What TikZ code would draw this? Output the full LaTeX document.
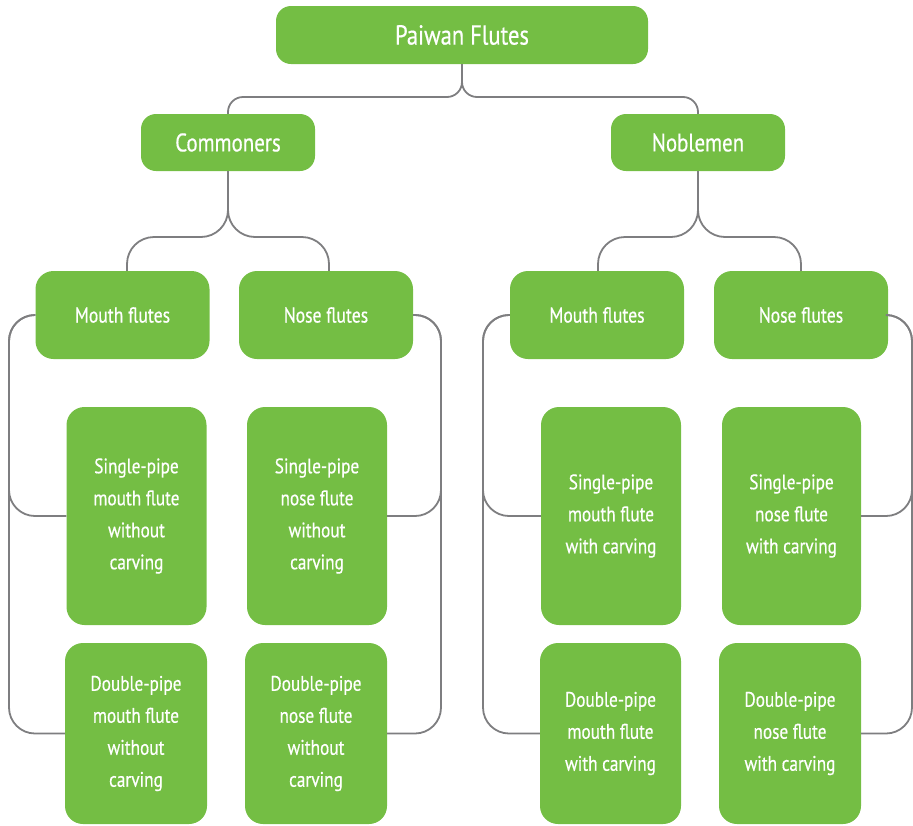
\documentclass[tikz,border=0pt]{standalone}
\usepackage{fontspec}
\setmainfont[FakeStretch=0.82, FakeBold=0.5]{PT Sans}
\usetikzlibrary{calc}
\definecolor{leafgreen}{HTML}{74BE44}
\definecolor{linegray}{HTML}{7E7E80}
\tikzset{
  box/.style={fill=leafgreen, draw=none, text=white, align=center, inner sep=0pt},
  toplevel/.style={box, rounded corners=15pt, minimum width=372pt, minimum height=58pt, font=\fontsize{27.5}{30}\selectfont},
  group/.style={box, rounded corners=15pt, minimum width=174pt, minimum height=57pt, font=\fontsize{25.5}{28}\selectfont},
  kind/.style={box, rounded corners=18pt, minimum width=174pt, minimum height=88pt, font=\fontsize{21.5}{26}\selectfont},
  single/.style={box, rounded corners=18pt, minimum width=140pt, minimum height=218pt, font=\fontsize{21}{32}\selectfont},
  double/.style={box, rounded corners=18pt, minimum width=142pt, minimum height=181pt, font=\fontsize{21}{32}\selectfont},
  conn/.style={draw=linegray, line width=1.8pt}
}
\begin{document}
\begin{tikzpicture}[x=1pt, y=-1pt]
\useasboundingbox (0,0) rectangle (913,825);

% tree levels
\node[toplevel] (root) at (462,35) {Paiwan Flutes};
\node[group] (com) at (228,142.5) {Commoners};
\node[group] (nob) at (698,142.5) {Noblemen};

\node[kind] (mfL) at (122.5,315) {Mouth flutes};
\node[kind] (nfL) at (326,315) {Nose flutes};
\node[kind] (mfR) at (597,315) {Mouth flutes};
\node[kind] (nfR) at (801,315) {Nose flutes};

\node[single] (smL) at (136.5,516) {Single-pipe\\mouth flute\\without\\carving};
\node[single] (snL) at (317,516) {Single-pipe\\nose flute\\without\\carving};
\node[single] (smR) at (611,516) {Single-pipe\\mouth flute\\with carving};
\node[single, minimum width=139pt] (snR) at (791.5,516) {Single-pipe\\nose flute\\with carving};

\node[double] (dmL) at (136,733.5) {Double-pipe\\mouth flute\\without\\carving};
\node[double] (dnL) at (316,733.5) {Double-pipe\\nose flute\\without\\carving};
\node[double, minimum width=141pt] (dmR) at (610.5,733.5) {Double-pipe\\mouth flute\\with carving};
\node[double] (dnR) at (790,733.5) {Double-pipe\\nose flute\\with carving};

% heights of the horizontal branches and x of the side rails
\coordinate (y1) at (0,97);
\coordinate (y2) at (0,237);
\coordinate (xA) at (9,0);
\coordinate (xB) at (441,0);
\coordinate (xC) at (483,0);
\coordinate (xD) at (912,0);

% root to groups
\draw[conn] (root.south) [rounded corners=15pt] |- (com.north |- y1) [rounded corners=6pt] -- (com.north);
\draw[conn] (root.south) [rounded corners=15pt] |- (nob.north |- y1) [rounded corners=6pt] -- (nob.north);

% groups to flute kinds
\draw[conn] (com.south) [rounded corners=27pt] |- ([xshift=4.5pt]mfL.north |- y2) [rounded corners=8pt] -- ([xshift=4.5pt]mfL.north);
\draw[conn] (com.south) [rounded corners=27pt] |- ([xshift=3pt]nfL.north |- y2) [rounded corners=8pt] -- ([xshift=3pt]nfL.north);
\draw[conn] (nob.south) [rounded corners=27pt] |- ([xshift=1pt]mfR.north |- y2) [rounded corners=8pt] -- ([xshift=1pt]mfR.north);
\draw[conn] (nob.south) [rounded corners=27pt] |- (nfR.north |- y2) [rounded corners=8pt] -- (nfR.north);

% side rails to the individual flutes
\begin{scope}[rounded corners=26pt]
\draw[conn] (mfL.west) -- (mfL.west -| xA) -- (smL.west -| xA) -- (smL.west);
\draw[conn] (mfL.west) -- (mfL.west -| xA) -- (dmL.west -| xA) -- (dmL.west);
\draw[conn] (nfL.east) -- (nfL.east -| xB) -- (snL.east -| xB) -- (snL.east);
\draw[conn] (nfL.east) -- (nfL.east -| xB) -- (dnL.east -| xB) -- (dnL.east);
\draw[conn] (mfR.west) -- (mfR.west -| xC) -- (smR.west -| xC) -- (smR.west);
\draw[conn] (mfR.west) -- (mfR.west -| xC) -- (dmR.west -| xC) -- (dmR.west);
\draw[conn] (nfR.east) -- (nfR.east -| xD) -- (snR.east -| xD) -- (snR.east);
\draw[conn] (nfR.east) -- (nfR.east -| xD) -- (dnR.east -| xD) -- (dnR.east);
\end{scope}
\end{tikzpicture}
\end{document}
